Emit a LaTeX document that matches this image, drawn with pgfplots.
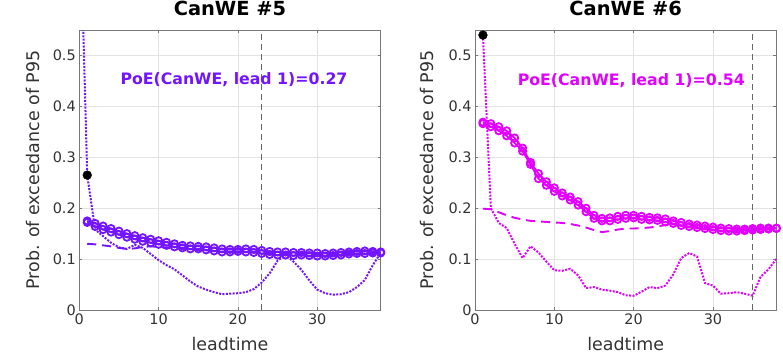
\documentclass[border=0pt]{standalone}
\usepackage{fontspec}
\setmainfont{DejaVu Sans}
\usepackage{pgfplots}
\pgfplotsset{compat=1.18}
\definecolor{cA}{RGB}{115,20,255}
\definecolor{cB}{RGB}{226,0,255}
\definecolor{axgray}{RGB}{120,120,120}
\definecolor{txtgray}{RGB}{50,50,50}
\pgfplotsset{
  panel/.style={
    scale only axis, width=301.4bp, height=280bp,
    xmin=0, xmax=38, ymin=0, ymax=0.55,
    xtick={0,10,20,30}, ytick={0,0.1,0.2,0.3,0.4,0.5},
    /pgf/number format/assume math mode=true,
    yticklabel style={/pgf/number format/.cd, fixed, precision=1},
    tick label style={font=\fontsize{14.5}{16}\selectfont, text=txtgray},
    label style={font=\fontsize{17.5}{20}\selectfont, text=txtgray},
    title style={font=\bfseries\fontsize{19.5}{22}\selectfont, at={(axis description cs:0.5,1.055)}, anchor=center},
    xlabel style={at={(axis description cs:0.5,-0.12)}, anchor=center},
    ylabel style={at={(axis description cs:-0.155,0.5)}, anchor=center, rotate=0},
    grid=major, major grid style={gray!22, line width=0.6bp},
    axis line style={axgray, line width=0.6bp},
    tick style={axgray, line width=0.6bp}, tick align=inside, tick pos=both,
    major tick length=3bp,
    xlabel={leadtime}, ylabel={Prob. of exceedance of P95},
  },
  circ/.style={line width=1.8bp, mark=o, mark size=3.6bp, mark options={line width=1.8bp}},
  dashedser/.style={line width=1.9bp, dash pattern=on 9bp off 6bp, no marks},
  dottedser/.style={line width=2bp, dash pattern=on 2bp off 1.4bp, no marks},
}
\begin{document}
\begin{tikzpicture}
\useasboundingbox (0,0) rectangle (783bp,358bp);
% ---------------- left panel ----------------
\begin{axis}[panel, at={(79.3bp,48bp)}, anchor=south west, title={CanWE \#5}]
\addplot[dottedser, cA] coordinates {
(0,0.84)(1,0.265)(2,0.158)(3,0.145)(4,0.132)(5,0.123)(6,0.120)(7,0.128)(8,0.122)(9,0.110)(10,0.098)
(11,0.088)(12,0.080)(13,0.068)(14,0.056)(15,0.046)(16,0.040)(17,0.035)(18,0.031)(19,0.032)(20,0.033)
(21,0.035)(22,0.041)(23,0.054)(24,0.072)(25,0.097)(26,0.108)(27,0.095)(28,0.079)(29,0.058)(30,0.040)
(31,0.033)(32,0.030)(33,0.031)(34,0.035)(35,0.045)(36,0.059)(37,0.088)(38,0.112)};
\addplot[dashedser, cA] coordinates {
(1,0.130)(2,0.129)(3,0.127)(4,0.125)(5,0.122)(6,0.120)(7,0.121)(8,0.124)(9,0.125)(10,0.124)
(11,0.122)(12,0.121)(13,0.120)(14,0.119)(15,0.118)(16,0.117)(17,0.116)(18,0.115)(19,0.115)(20,0.115)
(21,0.115)(22,0.114)(23,0.113)(24,0.112)(25,0.111)(26,0.111)(27,0.110)(28,0.110)(29,0.110)(30,0.109)
(31,0.109)(32,0.109)(33,0.110)(34,0.110)(35,0.111)(36,0.111)(37,0.112)(38,0.112)};
\addplot[circ, cA] coordinates {
(1,0.175)(2,0.170)(3,0.165)(4,0.160)(5,0.155)(6,0.150)(7,0.146)(8,0.142)(9,0.139)(10,0.136)
(11,0.133)(12,0.130)(13,0.127)(14,0.126)(15,0.125)(16,0.124)(17,0.122)(18,0.120)(19,0.119)(20,0.119)
(21,0.120)(22,0.119)(23,0.117)(24,0.115)(25,0.114)(26,0.114)(27,0.113)(28,0.113)(29,0.112)(30,0.112)
(31,0.111)(32,0.112)(33,0.113)(34,0.114)(35,0.115)(36,0.116)(37,0.115)(38,0.114)};
\addplot[circ, cA] coordinates {
(1,0.172)(2,0.164)(3,0.158)(4,0.153)(5,0.148)(6,0.143)(7,0.139)(8,0.135)(9,0.132)(10,0.129)
(11,0.127)(12,0.124)(13,0.122)(14,0.120)(15,0.120)(16,0.118)(17,0.116)(18,0.114)(19,0.114)(20,0.115)
(21,0.114)(22,0.113)(23,0.111)(24,0.109)(25,0.108)(26,0.108)(27,0.107)(28,0.108)(29,0.107)(30,0.106)
(31,0.106)(32,0.107)(33,0.108)(34,0.110)(35,0.111)(36,0.111)(37,0.112)(38,0.112)};
\addplot[black!60, line width=1.1bp, dash pattern=on 6bp off 4bp, no marks] coordinates {(23,0)(23,0.55)};
\addplot[only marks, mark=*, mark size=4.4bp, black] coordinates {(1,0.265)};
\node[text=cA, font=\bfseries\fontsize{15.8}{18}\selectfont] at (axis cs:19.5,0.452) {PoE(CanWE, lead 1)=0.27};
\end{axis}
% ---------------- right panel ----------------
\begin{axis}[panel, at={(475bp,48bp)}, anchor=south west, title={CanWE \#6},
  ylabel style={at={(axis description cs:-0.160,0.5)}}]
\addplot[dottedser, cB] coordinates {
(1,0.540)(2,0.200)(3,0.171)(4,0.161)(5,0.130)(6,0.102)(7,0.125)(8,0.113)(9,0.095)(10,0.078)
(11,0.077)(12,0.081)(13,0.068)(14,0.043)(15,0.045)(16,0.040)(17,0.038)(18,0.035)(19,0.029)(20,0.028)
(21,0.036)(22,0.045)(23,0.043)(24,0.048)(25,0.070)(26,0.102)(27,0.112)(28,0.105)(29,0.053)(30,0.048)
(31,0.032)(32,0.033)(33,0.035)(34,0.032)(35,0.028)(36,0.065)(37,0.080)(38,0.100)};
\addplot[dashedser, cB] coordinates {
(1,0.199)(2,0.198)(3,0.192)(4,0.186)(5,0.181)(6,0.178)(7,0.175)(8,0.174)(9,0.173)(10,0.172)
(11,0.171)(12,0.169)(13,0.166)(14,0.162)(15,0.157)(16,0.153)(17,0.155)(18,0.158)(19,0.160)(20,0.160)
(21,0.161)(22,0.162)(23,0.164)(24,0.167)(25,0.168)(26,0.166)(27,0.165)(28,0.164)(29,0.163)(30,0.162)
(31,0.161)(32,0.160)(33,0.160)(34,0.160)(35,0.160)(36,0.160)(37,0.160)(38,0.160)};
\addplot[circ, cB] coordinates {
(1,0.369)(2,0.366)(3,0.360)(4,0.352)(5,0.338)(6,0.318)(7,0.290)(8,0.268)(9,0.252)(10,0.240)
(11,0.230)(12,0.222)(13,0.213)(14,0.200)(15,0.186)(16,0.180)(17,0.181)(18,0.184)(19,0.186)(20,0.186)
(21,0.184)(22,0.182)(23,0.181)(24,0.179)(25,0.175)(26,0.172)(27,0.169)(28,0.167)(29,0.165)(30,0.163)
(31,0.161)(32,0.160)(33,0.159)(34,0.159)(35,0.160)(36,0.161)(37,0.161)(38,0.161)};
\addplot[circ, cB] coordinates {
(1,0.366)(2,0.360)(3,0.352)(4,0.342)(5,0.328)(6,0.312)(7,0.286)(8,0.258)(9,0.245)(10,0.233)
(11,0.224)(12,0.216)(13,0.206)(14,0.193)(15,0.180)(16,0.175)(17,0.175)(18,0.178)(19,0.180)(20,0.181)
(21,0.178)(22,0.177)(23,0.176)(24,0.173)(25,0.170)(26,0.166)(27,0.164)(28,0.162)(29,0.160)(30,0.158)
(31,0.156)(32,0.155)(33,0.155)(34,0.156)(35,0.157)(36,0.158)(37,0.159)(38,0.160)};
\addplot[black!60, line width=1.1bp, dash pattern=on 6bp off 4bp, no marks] coordinates {(35,0)(35,0.55)};
\addplot[only marks, mark=*, mark size=4.4bp, black] coordinates {(1,0.540)};
\node[text=cB, font=\bfseries\fontsize{15.8}{18}\selectfont] at (axis cs:19.7,0.45) {PoE(CanWE, lead 1)=0.54};
\end{axis}
\end{tikzpicture}
\end{document}
